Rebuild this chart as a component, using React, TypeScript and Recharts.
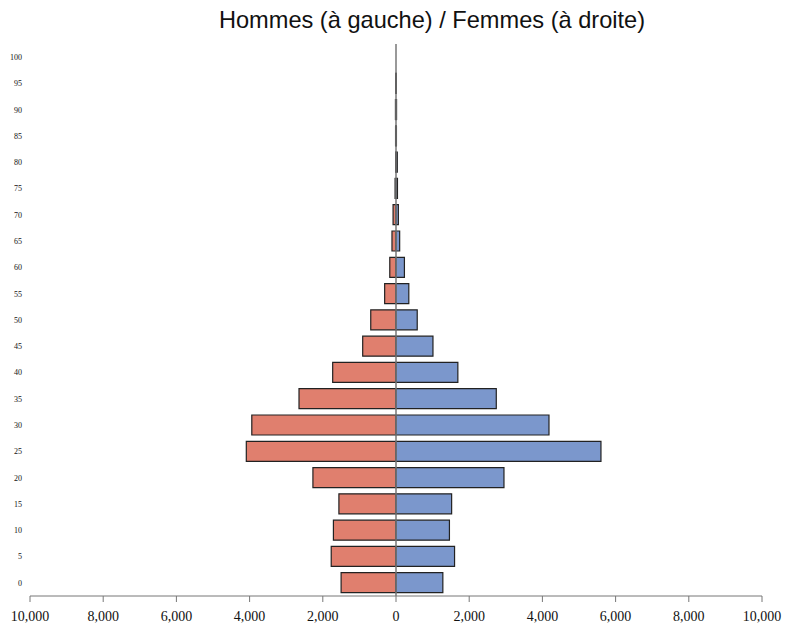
import { BarChart, Bar, XAxis, YAxis, ReferenceLine } from "recharts";

const ages = [0, 5, 10, 15, 20, 25, 30, 35, 40, 45, 50, 55, 60, 65, 70, 75, 80, 85, 90, 95, 100];
const hommes = [1500, 1770, 1710, 1560, 2270, 4090, 3940, 2650, 1730, 910, 690, 310, 170, 110, 80, 25, 10, 12, 15, 10, 0];
const femmes = [1280, 1600, 1460, 1520, 2950, 5600, 4180, 2740, 1690, 1010, 580, 350, 230, 100, 65, 40, 35, 12, 15, 10, 0];
const xTicks = [-10000, -8000, -6000, -4000, -2000, 0, 2000, 4000, 6000, 8000, 10000];

const data = ages.map((age, i) => ({
  age,
  hommes: -hommes[i],
  femmes: femmes[i],
}));

const fmt = (v: number) => Math.abs(v).toLocaleString("en-US");

const App = () => {
  return (
    <div style={{ position: "absolute", left: 0, top: 0, width: 786, height: 625 }}>
      <div
        style={{
          position: "absolute",
          left: 0,
          width: 864,
          top: 7,
          textAlign: "center",
          fontFamily: "'Liberation Sans', Arial, sans-serif",
          fontSize: 23.6,
          color: "#111",
        }}
      >
        Hommes (à gauche) / Femmes (à droite)
      </div>
      <BarChart
        width={786}
        height={625}
        data={data}
        layout="vertical"
        stackOffset="sign"
        margin={{ top: 44, right: 24, bottom: 0, left: 0 }}
        barSize={20}
      >
        <XAxis
          type="number"
          domain={[-10000, 10000]}
          ticks={xTicks}
          tickFormatter={fmt}
          stroke="#777"
          height={29}
          tickSize={6}
          tickMargin={9}
          tick={{ fill: "#111", fontSize: 14, fontFamily: "'Liberation Serif', 'Times New Roman', serif" }}
        />
        <YAxis
          type="category"
          dataKey="age"
          reversed
          width={30}
          axisLine={false}
          tickLine={false}
          tickSize={0}
          tickMargin={8}
          interval={0}
          tick={{ fill: "#111", fontSize: 8, fontFamily: "'Liberation Serif', 'Times New Roman', serif" }}
        />
        <Bar dataKey="hommes" stackId="a" fill="#E07F6E" stroke="#222" strokeWidth={1.2} isAnimationActive={false} />
        <Bar dataKey="femmes" stackId="a" fill="#7B97CC" stroke="#222" strokeWidth={1.2} isAnimationActive={false} />
        <ReferenceLine x={0} stroke="#777" strokeWidth={1.5} />
      </BarChart>
    </div>
  );
};

export default App;
